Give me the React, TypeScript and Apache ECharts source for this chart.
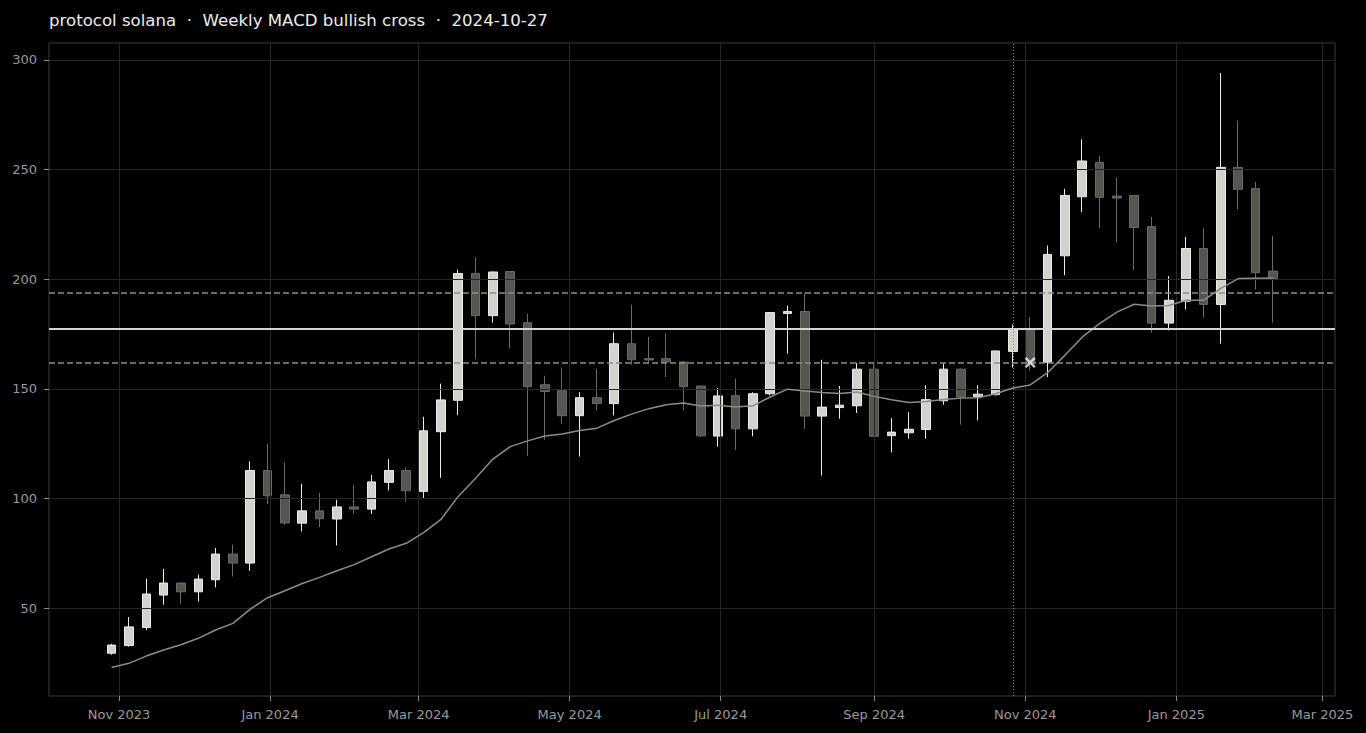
import React, { useEffect, useRef } from "react";
import * as echarts from "echarts";

const titleText = "protocol solana  ·  Weekly MACD bullish cross  ·  2024-10-27";

const candleDates = [
  "2023-10-29", "2023-11-05", "2023-11-12", "2023-11-19", "2023-11-26", "2023-12-03", "2023-12-10", "2023-12-17", "2023-12-24", "2023-12-31",
  "2024-01-07", "2024-01-14", "2024-01-21", "2024-01-28", "2024-02-04", "2024-02-11", "2024-02-18", "2024-02-25",
  "2024-03-03", "2024-03-10", "2024-03-17", "2024-03-24", "2024-03-31", "2024-04-07", "2024-04-14", "2024-04-21", "2024-04-28",
  "2024-05-05", "2024-05-12", "2024-05-19", "2024-05-26", "2024-06-02", "2024-06-09", "2024-06-16", "2024-06-23", "2024-06-30",
  "2024-07-07", "2024-07-14", "2024-07-21", "2024-07-28", "2024-08-04", "2024-08-11", "2024-08-18", "2024-08-25",
  "2024-09-01", "2024-09-08", "2024-09-15", "2024-09-22", "2024-09-29", "2024-10-06", "2024-10-13", "2024-10-20", "2024-10-27",
  "2024-11-03", "2024-11-10", "2024-11-17", "2024-11-24", "2024-12-01", "2024-12-08", "2024-12-15", "2024-12-22", "2024-12-29",
  "2025-01-05", "2025-01-12", "2025-01-19", "2025-01-26", "2025-02-02", "2025-02-09",
];

const opens = [
  29.5, 33.0, 41.2, 56.0, 61.5, 57.5, 63.0, 74.7, 70.6, 112.8,
  101.7, 88.8, 94.4, 90.7, 96.2, 95.2, 107.4, 112.8,
  103.3, 130.5, 144.8, 202.6, 183.4, 203.5, 180.2, 151.9, 149.2,
  137.8, 146.0, 143.3, 170.6, 163.8, 163.8, 162.3, 151.3, 128.5,
  146.9, 131.8, 147.8, 184.4, 185.3, 137.6, 141.5, 142.3,
  159.0, 128.7, 130.0, 131.5, 144.6, 159.0, 146.4, 147.4, 167.1,
  177.0, 162.2, 210.7, 237.6, 253.3, 237.9, 238.2, 224.0, 180.0,
  190.0, 214.0, 188.5, 251.0, 241.4, 203.7,
];

const closes = [
  33.2, 41.5, 56.5, 61.5, 57.5, 63.3, 74.7, 70.6, 112.8, 101.3,
  88.9, 94.4, 90.8, 96.2, 95.2, 107.6, 112.8, 103.6,
  130.9, 145.0, 202.6, 183.4, 203.3, 179.6, 151.0, 148.8, 137.8,
  146.0, 143.3, 170.6, 163.3, 163.2, 162.3, 151.0, 128.6, 146.8,
  131.8, 147.8, 184.8, 185.3, 137.6, 141.7, 142.6, 159.0,
  128.4, 130.3, 131.6, 145.1, 159.0, 146.3, 147.6, 167.3, 177.0,
  162.0, 211.3, 238.2, 253.9, 237.3, 237.0, 223.6, 180.0, 190.4,
  214.0, 188.5, 251.0, 241.0, 203.0, 200.3,
];

const lows = [
  28.8, 32.5, 40.0, 51.6, 52.0, 53.0, 59.5, 64.5, 67.0, 97.5,
  88.0, 85.0, 87.0, 78.7, 93.0, 93.0, 103.7, 98.5,
  100.3, 109.5, 138.0, 163.5, 180.2, 168.4, 119.5, 126.8, 134.0,
  119.2, 140.2, 137.9, 161.0, 161.5, 155.4, 140.2, 128.0, 123.7,
  122.2, 128.4, 147.0, 166.0, 131.8, 110.5, 136.4, 139.0,
  128.0, 121.0, 127.3, 127.3, 142.8, 133.7, 135.6, 147.0, 159.7,
  158.4, 155.4, 201.8, 230.6, 223.2, 216.8, 204.1, 175.7, 176.7,
  186.2, 182.5, 170.6, 232.0, 195.3, 180.2,
];

const highs = [
  33.8, 46.0, 63.5, 68.0, 61.7, 65.3, 77.5, 79.0, 117.0, 125.0,
  116.5, 106.7, 102.6, 99.5, 106.3, 110.8, 118.0, 114.3,
  137.3, 152.4, 204.4, 210.0, 203.6, 203.8, 184.3, 156.0, 159.7,
  148.5, 159.2, 175.7, 188.4, 173.7, 175.5, 162.5, 151.5, 150.4,
  154.7, 148.5, 185.0, 188.0, 193.7, 163.3, 151.3, 161.8,
  161.8, 136.7, 139.4, 151.7, 161.5, 159.3, 151.7, 167.5, 179.3,
  182.8, 215.4, 241.2, 263.8, 256.3, 246.4, 238.4, 228.4, 201.5,
  219.3, 223.2, 294.0, 272.3, 244.4, 219.8,
];

const movingAverage = [
  23.0, 24.9, 28.2, 31.0, 33.4, 36.3, 40.1, 43.1, 49.6, 54.8,
  58.0, 61.3, 64.1, 67.1, 69.9, 73.5, 77.0, 79.6,
  84.5, 90.5, 101.0, 109.3, 118.0, 123.7, 126.3, 128.5, 129.4,
  131.0, 132.1, 135.6, 138.5, 141.0, 142.8, 143.6, 142.2, 142.5,
  141.7, 142.3, 146.3, 149.9, 149.0, 148.4, 147.9, 148.6,
  146.6, 145.1, 143.8, 144.3, 145.2, 145.8, 146.0, 147.8, 150.4,
  151.8, 157.4, 165.3, 173.6, 179.8, 185.0, 188.6, 187.8, 188.0,
  190.4, 190.4, 195.8, 200.3, 200.5, 200.6,
];

const levelMid = 177.6;
const levelUpper = 194.0;
const levelLower = 162.0;
const signalDate = "2024-10-27";
const crossMarker = { date: "2024-11-03", value: 162.0 };

const xTickDates = [
  "2023-11-01", "2024-01-01", "2024-03-01", "2024-05-01", "2024-07-01",
  "2024-09-01", "2024-11-01", "2025-01-01", "2025-03-01",
];
const yTickValues = [50, 100, 150, 200, 250, 300];
const monthNames = ["Jan", "Feb", "Mar", "Apr", "May", "Jun", "Jul", "Aug", "Sep", "Oct", "Nov", "Dec"];

const xRange = { min: "2023-10-03T17:20", max: "2025-03-06T02:20" };
const yRange = { min: 10, max: 307.7 };

function toTs(s: string): number {
  const [datePart, timePart] = s.split("T");
  const [y, m, d] = datePart.split("-").map(Number);
  let hh = 0;
  let mm = 0;
  if (timePart) {
    [hh, mm] = timePart.split(":").map(Number);
  }
  return new Date(y, m - 1, d, hh, mm).getTime();
}

const FONT = "DejaVu Sans";

export default function App() {
  const ref = useRef<HTMLDivElement>(null);

  useEffect(() => {
    document.body.style.margin = "0";
    document.body.style.background = "#000";
    if (!ref.current) return;
    const chart = echarts.init(ref.current, undefined, { renderer: "svg" });

    const candleData = candleDates.map((d, i) => [toTs(d), opens[i], closes[i], lows[i], highs[i]]);
    const maData = candleDates.map((d, i) => [toTs(d), movingAverage[i]]);
    const xTicks = xTickDates.map(toTs);

    chart.setOption({
      animation: false,
      backgroundColor: "#000",
      title: {
        text: titleText,
        left: 49,
        top: 12,
        padding: 0,
        textStyle: { color: "#ececec", fontSize: 16.6, fontWeight: "normal", fontFamily: FONT },
      },
      grid: {
        left: 49,
        right: 31,
        top: 43,
        bottom: 37,
        show: true,
        borderColor: "#3a3a3a",
        borderWidth: 1,
        backgroundColor: "transparent",
      },
      xAxis: {
        type: "value",
        min: toTs(xRange.min),
        max: toTs(xRange.max),
        scale: true,
        z: 3,
        axisLine: { show: false },
        axisTick: { show: true, customValues: xTicks, length: 5, lineStyle: { color: "#8a8a8a" } },
        axisLabel: {
          customValues: xTicks,
          color: "#999",
          fontSize: 13,
          fontFamily: FONT,
          margin: 12,
          hideOverlap: false,
          formatter: (v: number) => {
            const d = new Date(v);
            return monthNames[d.getMonth()] + " " + d.getFullYear();
          },
        },
        splitLine: { show: true, lineStyle: { color: "#262626", width: 1 } },
      },
      yAxis: {
        type: "value",
        min: yRange.min,
        max: yRange.max,
        z: 3,
        axisLine: { show: false },
        axisTick: { show: true, customValues: yTickValues, length: 5, lineStyle: { color: "#8a8a8a" } },
        axisLabel: {
          customValues: yTickValues,
          color: "#999",
          fontSize: 13,
          fontFamily: FONT,
          margin: 12,
        },
        splitLine: { show: true, lineStyle: { color: "#262626", width: 1 } },
      },
      series: [
        {
          type: "candlestick",
          z: 2,
          barWidth: 9,
          encode: { x: 0, y: [1, 2, 3, 4] },
          data: candleData,
          itemStyle: {
            color: "#d2d2cc",
            borderColor: "#ececE6",
            color0: "#56554f",
            borderColor0: "#6b6a64",
            borderWidth: 1,
          },
        },
        {
          type: "line",
          z: 4,
          data: maData,
          showSymbol: false,
          symbol: "none",
          lineStyle: { color: "#8c8c88", width: 1.5 },
          markLine: {
            silent: true,
            symbol: ["none", "none"],
            label: { show: false },
            data: [
              { yAxis: levelMid, lineStyle: { color: "#d4d4d0", width: 2, type: "solid" } },
              { yAxis: levelUpper, lineStyle: { color: "#8f8f8f", width: 1.5, type: [6, 3] } },
              { yAxis: levelLower, lineStyle: { color: "#8f8f8f", width: 1.5, type: [6, 3] } },
              { xAxis: toTs(signalDate), lineStyle: { color: "#8a8a8a", width: 1, type: [1, 2] } },
            ],
          },
        },
        {
          type: "scatter",
          z: 6,
          data: [[toTs(crossMarker.date), crossMarker.value]],
          symbol: "path://M1.6,0 L5,3.4 L8.4,0 L10,1.6 L6.6,5 L10,8.4 L8.4,10 L5,6.6 L1.6,10 L0,8.4 L3.4,5 L0,1.6 Z",
          symbolSize: 11,
          itemStyle: { color: "#f4f4f4" },
        },
      ],
    });

    return () => {
      chart.dispose();
    };
  }, []);

  return <div ref={ref} style={{ width: 1366, height: 733, background: "#000" }} />;
}
